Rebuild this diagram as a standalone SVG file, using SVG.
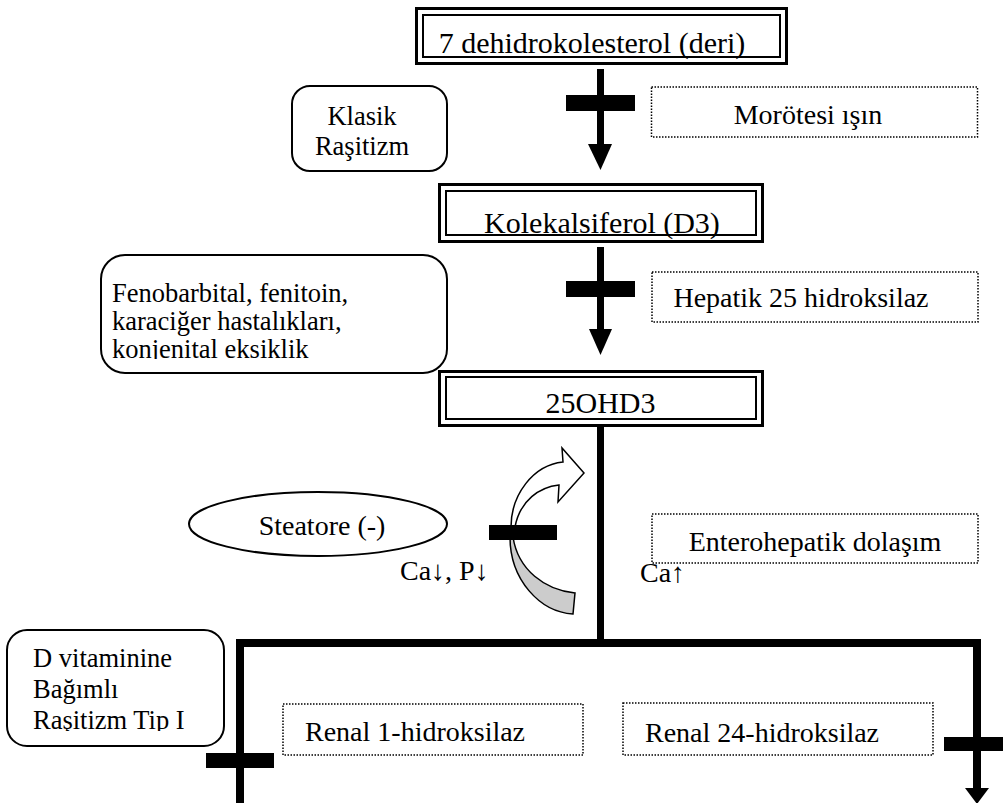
<svg xmlns="http://www.w3.org/2000/svg" width="1003" height="803" viewBox="0 0 1003 803">
<style>
text{font-family:"Liberation Serif","Times New Roman",serif;fill:#000}
.main{font-size:30px}
.lbl{font-size:28px}
.rnd{font-size:26.5px}
.outer{fill:#fff;stroke:#000;stroke-width:3}
.inner{fill:none;stroke:#000;stroke-width:2}
.dot{fill:#fff;stroke:#000;stroke-width:1.5;stroke-dasharray:1.5 1.5}
.rbox{fill:#fff;stroke:#000;stroke-width:2}
.shaft{fill:none;stroke:#000;stroke-width:7}
.trunk{fill:none;stroke:#000;stroke-width:8;stroke-linejoin:miter}
.bar{fill:#000}
.head{fill:#000}
</style>
<defs>
<clipPath id="clipFeno"><rect x="100" y="254" width="348" height="105"/></clipPath>
<clipPath id="clipDvit"><rect x="6" y="628" width="220" height="103"/></clipPath>
</defs>

<g id="connectors">
  <path class="shaft" d="M600.5,69 V146"/>
  <polygon class="head" points="588,144 612,144 600.5,170"/>
  <rect class="bar" x="566" y="95" width="69" height="16"/>
  <path class="shaft" d="M600.5,247 V331"/>
  <polygon class="head" points="589,329 612,329 600.5,355"/>
  <rect class="bar" x="566" y="281" width="69" height="16"/>
  <path class="shaft" d="M600.5,427 V643"/>
  <path class="trunk" d="M240,803 V643 H977 V790"/>
  <polygon class="head" points="965,788 989,788 977,804"/>
  <rect class="bar" x="206" y="753" width="68" height="15"/>
  <rect class="bar" x="944" y="737" width="66" height="14"/>
  <g id="curved-arrow">
    <path d="M510,537 C510,580 540,612 573,614 L575,593 C545,590 518,570 513,537 Z" fill="#cccccc" stroke="#000" stroke-width="1.5"/>
    <path d="M511,527 C511,495 533,465 563,462 L562,448 L584,473 L558,502 L559,485 C540,487 520,500 515,527 Z" fill="#fff" stroke="#000" stroke-width="1.5"/>
    <rect class="bar" x="489" y="525" width="68" height="15"/>
  </g>
</g>

<g id="box-7dehidro">
  <rect class="outer" x="416.5" y="8.5" width="370" height="55"/>
  <rect class="inner" x="423" y="15" width="357" height="42"/>
  <text class="main" x="592" y="53" text-anchor="middle">7 dehidrokolesterol (deri)</text>
</g>
<g id="box-kolekalsiferol">
  <rect class="outer" x="439.5" y="184.5" width="323" height="57"/>
  <rect class="inner" x="446" y="191" width="310" height="44"/>
  <text class="main" x="602" y="233" text-anchor="middle">Kolekalsiferol (D3)</text>
</g>
<g id="box-25ohd3">
  <rect class="outer" x="439.5" y="371.5" width="323" height="54"/>
  <rect class="inner" x="446" y="377" width="310" height="42"/>
  <text class="main" x="600.5" y="413" text-anchor="middle">25OHD3</text>
</g>

<g id="klasik">
  <rect class="rbox" x="292" y="86" width="155" height="85" rx="18"/>
  <text class="rnd" x="362" y="125" text-anchor="middle">Klasik</text>
  <text class="rnd" x="362" y="155" text-anchor="middle">Raşitizm</text>
</g>
<g id="fenobarbital">
  <rect class="rbox" x="101" y="255" width="346" height="118" rx="24"/>
  <g clip-path="url(#clipFeno)">
    <text class="rnd" x="112" y="302">Fenobarbital, fenitoin,</text>
    <text class="rnd" x="112" y="330">karaciğer hastalıkları,</text>
    <text class="rnd" x="112" y="358">konjenital eksiklik</text>
  </g>
</g>
<g id="d-vitamini">
  <rect class="rbox" x="7" y="630" width="217" height="116" rx="20"/>
  <g clip-path="url(#clipDvit)">
    <text class="rnd" x="33" y="667">D vitaminine</text>
    <text class="rnd" x="33" y="698">Bağımlı</text>
    <text class="rnd" x="33" y="729">Raşitizm Tip I</text>
  </g>
</g>
<g id="steatore">
  <ellipse cx="318" cy="524" rx="129" ry="32" fill="#fff" stroke="#000" stroke-width="2"/>
  <text class="lbl" x="322" y="535" text-anchor="middle">Steatore (-)</text>
</g>

<g id="morotesi">
  <rect class="dot" x="651.5" y="87" width="326" height="50"/>
  <text class="lbl" x="808" y="124" text-anchor="middle">Morötesi ışın</text>
</g>
<g id="hepatik">
  <rect class="dot" x="652" y="272" width="326" height="50"/>
  <text class="lbl" x="801" y="307" text-anchor="middle">Hepatik 25 hidroksilaz</text>
</g>
<g id="enterohepatik">
  <rect class="dot" x="652" y="514" width="326" height="49"/>
  <text class="lbl" x="815" y="551" text-anchor="middle">Enterohepatik dolaşım</text>
</g>
<g id="renal1">
  <rect class="dot" x="283" y="704" width="300" height="51"/>
  <text class="lbl" x="305" y="741">Renal 1-hidroksilaz</text>
</g>
<g id="renal24">
  <rect class="dot" x="623" y="703" width="310" height="52"/>
  <text class="lbl" x="645" y="742">Renal 24-hidroksilaz</text>
</g>

<g id="ca-down">
  <text class="lbl" x="400" y="580">Ca↓, P↓</text>
</g>
<g id="ca-up">
  <text class="lbl" x="640" y="582">Ca↑</text>
</g>
</svg>
